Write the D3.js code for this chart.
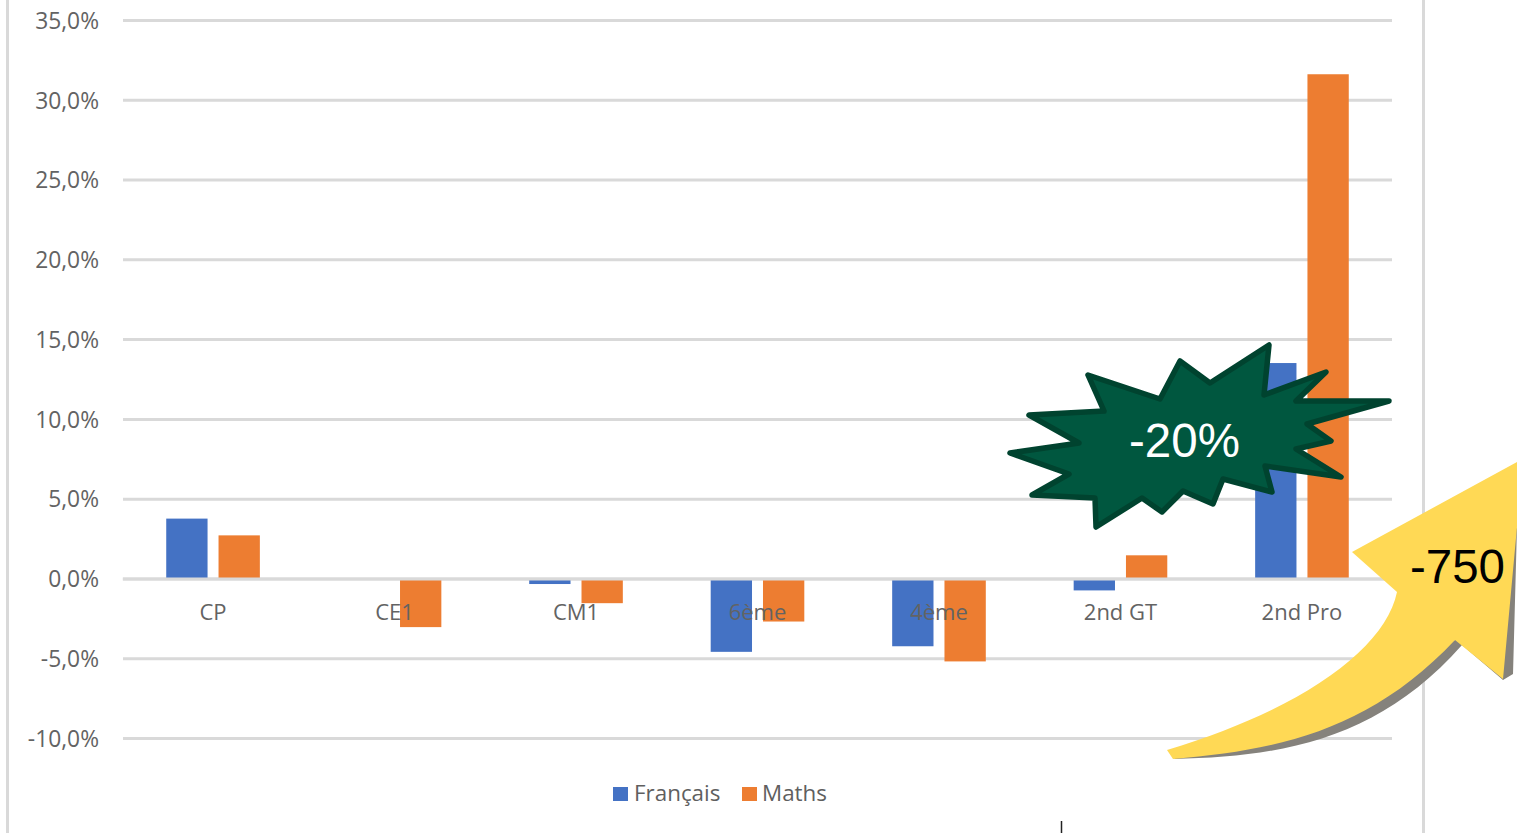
<!DOCTYPE html>
<html>
<head>
<meta charset="utf-8">
<script src="https://cdn.jsdelivr.net/npm/d3@7"></script>
<style>
  html, body { margin: 0; padding: 0; background: #fff; overflow: hidden; }
  svg { display: block; }
  .axis text { font-family: "Open Sans", sans-serif; font-size: 22px; fill: #636363; }
  .yaxis text { font-size: 22.8px; }
  .legend text { font-family: "Open Sans", sans-serif; font-size: 22.4px; fill: #5f5f5f; }
  .callout { font-family: "Liberation Sans", Arial, sans-serif; font-size: 47.5px; }
</style>
</head>
<body>
<div class="canvas"></div>
<script>
// Data
const categories = ['CP', 'CE1', 'CM1', '6ème', '4ème', '2nd GT', '2nd Pro']
const francais = [3.75, 0, -0.35, -4.6, -4.25, -0.75, 13.5]
const maths = [2.7, -3.05, -1.55, -2.7, -5.2, 1.45, 31.6]
const yTicks = [-10, -5, 0, 5, 10, 15, 20, 25, 30, 35]
const seriesNames = ['Français', 'Maths']
const seriesValues = [francais, maths]
const seriesColors = ['#4472c4', '#ed7d31']

const width = 1517
const height = 833

// Plot area
const margin = {top: 20, right: 125, bottom: 95, left: 123}
const graphWidth = width - margin.left - margin.right
const graphHeight = height - margin.top - margin.bottom

const svg = d3.select('.canvas')
  .append('svg')
    .attr('width', width)
    .attr('height', height)

// Outer frame of the slide
svg.selectAll('.frame')
  .data([7.5, 1423.5])
  .enter()
  .append('line')
    .attr('class', 'frame')
    .attr('x1', d => d)
    .attr('x2', d => d)
    .attr('y1', 0)
    .attr('y2', height)
    .attr('stroke', '#d9d9d9')
    .attr('stroke-width', 3)

// Small black mark at the bottom
svg.append('line')
  .attr('x1', 1061.5)
  .attr('x2', 1061.5)
  .attr('y1', 821)
  .attr('y2', height)
  .attr('stroke', '#222')
  .attr('stroke-width', 1.5)

const graph = svg.append('g')
  .attr('transform', `translate(${margin.left},${margin.top})`)

// Scales
const yScale = d3.scaleLinear()
  .domain([-10, 35])
  .range([graphHeight, 0])

const xScale = d3.scaleBand()
  .domain(categories)
  .range([-0.7, graphWidth + 0.7])

const xInner = d3.scaleBand()
  .domain(seriesNames)
  .range([0, xScale.bandwidth()])
  .paddingInner(0.21)
  .paddingOuter(0.84)

// Y axis: labels and gridlines
const yAxis = d3.axisLeft(yScale)
  .tickValues(yTicks)
  .tickSize(-graphWidth)
  .tickPadding(24)
  .tickFormat(d => d.toFixed(1).replace('.', ',') + '%')

const yAxisGroup = graph.append('g')
  .attr('class', 'axis yaxis')
  .call(yAxis)

yAxisGroup.select('.domain').remove()
yAxisGroup.selectAll('line')
  .attr('stroke', '#d9d9d9')
  .attr('stroke-width', 3)
yAxisGroup.selectAll('text')
  .attr('transform', 'translate(0,1)')

// Bars
const groups = graph.selectAll('.cat')
  .data(categories)
  .enter()
  .append('g')
    .attr('class', 'cat')
    .attr('transform', d => `translate(${xScale(d)},0)`)

groups.selectAll('rect')
  .data((d, i) => seriesNames.map((name, s) => ({name, value: seriesValues[s][i], color: seriesColors[s]})))
  .enter()
  .append('rect')
    .attr('x', d => xInner(d.name))
    .attr('width', xInner.bandwidth())
    .attr('y', d => yScale(Math.max(0, d.value)))
    .attr('height', d => Math.abs(yScale(d.value) - yScale(0)))
    .attr('fill', d => d.color)

// X axis sits on the zero line, labels are drawn over the bars
const xAxis = d3.axisBottom(xScale)
  .tickSize(0)
  .tickPadding(26)

const xAxisGroup = graph.append('g')
  .attr('class', 'axis')
  .attr('transform', `translate(0,${yScale(0)})`)
  .call(xAxis)

xAxisGroup.select('.domain')
  .attr('stroke', '#d9d9d9')
  .attr('stroke-width', 3)

// Legend
const legendX = [613, 742]
const legendTextX = [21, 20]
const legend = svg.append('g')
  .attr('class', 'legend')

const legendItems = legend.selectAll('g')
  .data(seriesNames)
  .enter()
  .append('g')
    .attr('transform', (d, i) => `translate(${legendX[i]},787)`)

legendItems.append('rect')
  .attr('width', 15)
  .attr('height', 14)
  .attr('fill', (d, i) => seriesColors[i])

legendItems.append('text')
  .attr('x', (d, i) => legendTextX[i])
  .attr('y', 14)
  .text(d => d)

// Yellow arrow with its grey shadow
const arrowShadow = 'M1173,759 C1285,757 1380,738 1462,645 L1503,680 L1513,674 L1517,527 L1455,640 Z'
const arrowBody = 'M1517,462 L1352,552 L1397,592 C1385,650 1300,710 1167,750 L1173,759 C1280,750 1370,730 1455,640 L1503,679 L1517,527 Z'

svg.append('path')
  .attr('d', arrowShadow)
  .attr('fill', '#85827c')

svg.append('path')
  .attr('d', arrowBody)
  .attr('fill', '#ffd955')

svg.append('text')
  .attr('class', 'callout')
  .attr('x', 1457.5)
  .attr('y', 583)
  .attr('text-anchor', 'middle')
  .attr('fill', '#000')
  .text('-750')

// Green starburst
const burstPoints = [
  [1010, 453], [1079, 443], [1029, 415], [1104, 411], [1088, 375], [1160, 399],
  [1180, 361], [1210, 383], [1269, 345], [1264, 395], [1326, 372], [1296, 401],
  [1389, 401], [1307, 424], [1331, 441], [1296, 449], [1341, 477], [1265, 466],
  [1272, 492], [1223, 479], [1213, 504], [1183, 491], [1162, 512], [1142, 498],
  [1096, 527], [1095, 498], [1032, 495], [1069, 474]
]

svg.append('path')
  .attr('d', d3.line()(burstPoints) + 'Z')
  .attr('fill', '#00573f')
  .attr('stroke', '#00432f')
  .attr('stroke-width', 5.5)
  .attr('stroke-linejoin', 'round')

svg.append('text')
  .attr('class', 'callout')
  .attr('x', 1184.5)
  .attr('y', 457)
  .attr('text-anchor', 'middle')
  .attr('fill', '#fff')
  .text('-20%')
</script>
</body>
</html>
